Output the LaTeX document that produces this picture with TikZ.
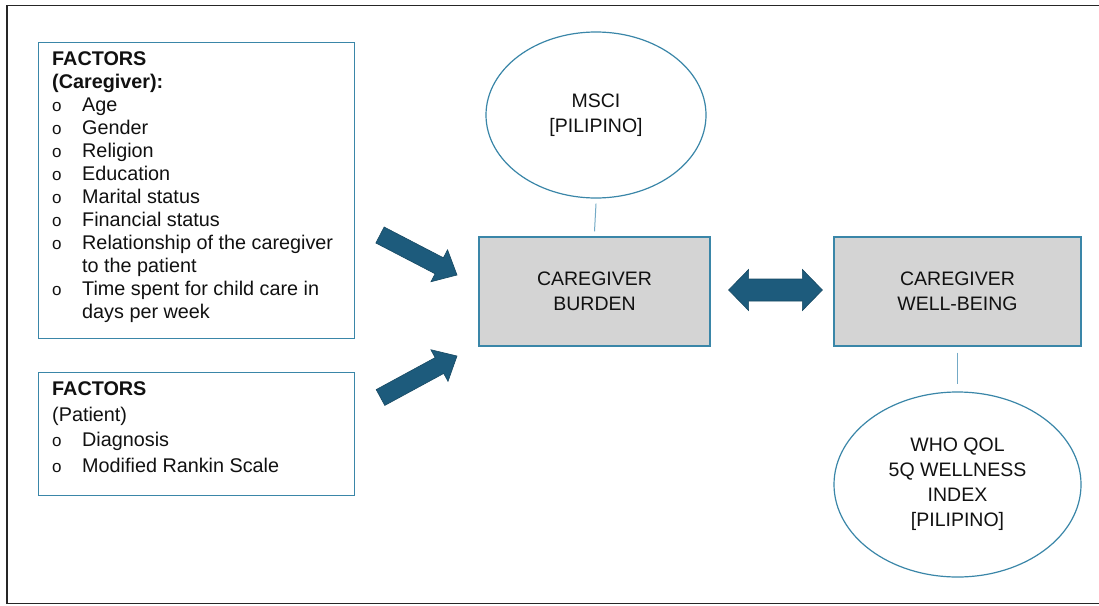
\documentclass[tikz,border=0pt]{standalone}
\usepackage{fontspec}
\setmainfont{Liberation Sans}
\usetikzlibrary{calc,shapes.geometric}
\definecolor{arrowblue}{HTML}{1D5B7C}
\definecolor{boxblue}{HTML}{3A86A8}
\definecolor{lineblue}{HTML}{74AAC6}
\definecolor{boxgray}{HTML}{D4D4D4}
\definecolor{txt}{HTML}{111111}
\newcommand{\bul}[1]{\makebox[30pt][l]{\fontsize{17}{23}\selectfont o}#1}
\newcommand{\cont}[1]{\hspace*{30pt}#1}
\begin{document}
\begin{tikzpicture}[x=1pt,y=-1pt,
  factbox/.style={draw=boxblue, line width=1.2pt, minimum width=316pt, inner sep=0pt, anchor=north west},
  listtext/.style={anchor=north west, inner sep=0pt, align=left, text=txt},
  midbox/.style={draw=boxblue, line width=1.2pt, fill=boxgray, inner sep=0pt, minimum height=109pt, align=center, text=txt, font=\fontsize{19.5}{25}\selectfont},
  measure/.style={ellipse, draw=boxblue, line width=1.2pt, inner sep=0pt, align=center, text=txt, font=\fontsize{19.5}{25}\selectfont},
  link/.style={draw=lineblue, line width=1pt},
  fatarrow/.style={fill=arrowblue, draw=arrowblue!80!black, line width=0.6pt}
]
\useasboundingbox (0,0) rectangle (1099,605);
\fill[white] (0,0) rectangle (1099,605);
\draw[line width=1.6pt, black!85] (1100,5.5) -- (7,5.5) -- (7,603.5) -- (1100,603.5);

% factor boxes
\node[factbox, minimum height=296pt] (cg) at (38,42) {};
\node[listtext, font=\fontsize{19.8}{23}\selectfont] (cgtext) at (52,51.5) {%
  \textbf{FACTORS}\\
  \textbf{(Caregiver):}\\
  \bul{Age}\\
  \bul{Gender}\\
  \bul{Religion}\\
  \bul{Education}\\
  \bul{Marital status}\\
  \bul{Financial status}\\
  \bul{Relationship of the caregiver}\\
  \cont{to the patient}\\
  \bul{Time spent for child care in}\\
  \cont{days per week}};

\node[factbox, minimum height=123pt] (pt) at (38,372) {};
\node[listtext, font=\fontsize{19.8}{25.5}\selectfont] (pttext) at (52,381.5) {%
  \textbf{FACTORS}\\
  (Patient)\\
  \bul{Diagnosis}\\
  \bul{Modified Rankin Scale}};

% central boxes
\node[midbox, minimum width=231pt] (burden) at (594.5,291.5) {CAREGIVER\\BURDEN};
\node[midbox, minimum width=247pt] (well) at (957.5,291.5) {CAREGIVER\\WELL-BEING};

% measures
\node[measure, minimum width=220pt, minimum height=166pt] (msci) at (596,115) {MSCI\\{[PILIPINO]}};
\node[measure, minimum width=247pt, minimum height=185pt] (who) at (957.5,484.5) {WHO QOL\\5Q WELLNESS\\INDEX\\{[PILIPINO]}};

\draw[link] (msci.south) ++(0,5) -- ($(burden.north)+(0,-5)$);
\draw[link] (well.south) ++(0,6) -- ($(who.north)+(0,-7)$);

% fat arrows
\coordinate (t1) at (380,235);
\coordinate (p1) at (457,275);
\coordinate (h1) at ($(p1)!20pt!(t1)$);
\fill[fatarrow] ($(t1)!9pt!90:(p1)$) -- ($(h1)!9pt!90:(p1)$) -- ($(h1)!18pt!90:(p1)$) -- (p1)
  -- ($(h1)!18pt!-90:(p1)$) -- ($(h1)!9pt!-90:(p1)$) -- ($(t1)!9pt!-90:(p1)$) -- cycle;

\coordinate (t2) at (380.5,397.5);
\coordinate (p2) at (457,356);
\coordinate (h2) at ($(p2)!20pt!(t2)$);
\fill[fatarrow] ($(t2)!9pt!90:(p2)$) -- ($(h2)!9pt!90:(p2)$) -- ($(h2)!18pt!90:(p2)$) -- (p2)
  -- ($(h2)!18pt!-90:(p2)$) -- ($(h2)!9pt!-90:(p2)$) -- ($(t2)!9pt!-90:(p2)$) -- cycle;

% double arrow between burden and well-being
\coordinate (dl) at ($(burden.east)+(18,-1.5)$);
\coordinate (dr) at ($(well.west)+(-11,-1.5)$);
\fill[fatarrow] (dl) -- ($(dl)+(20,-20.5)$) -- ($(dl)+(20,-11)$) -- ($(dr)+(-20,-11)$) -- ($(dr)+(-20,-20.5)$) -- (dr)
  -- ($(dr)+(-20,20.5)$) -- ($(dr)+(-20,11)$) -- ($(dl)+(20,11)$) -- ($(dl)+(20,20.5)$) -- cycle;
\end{tikzpicture}
\end{document}
